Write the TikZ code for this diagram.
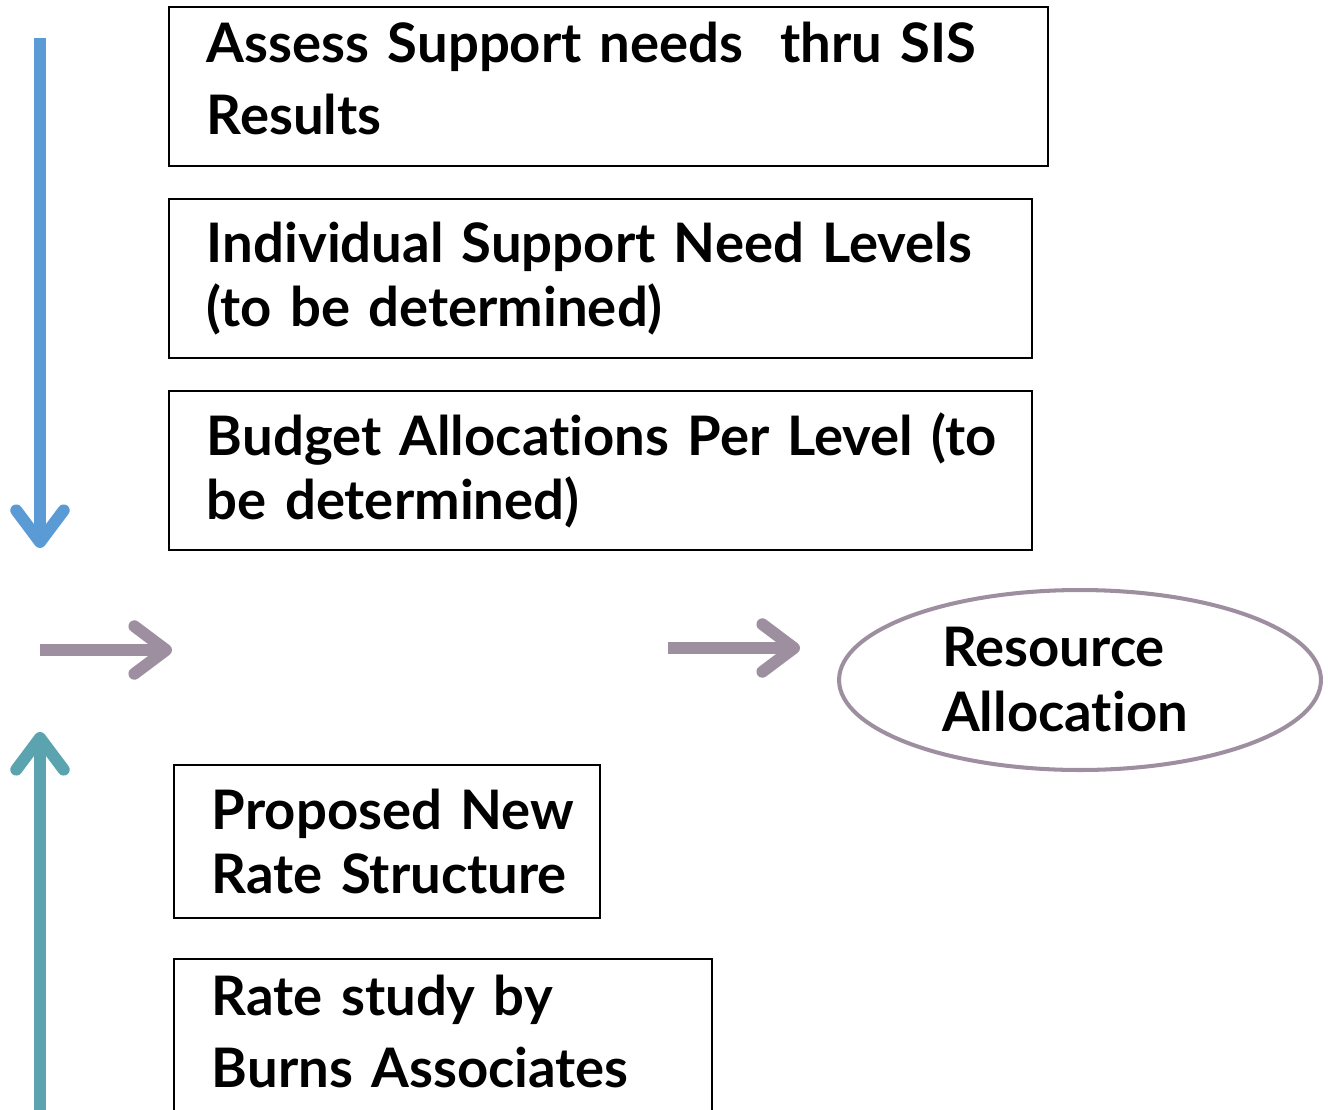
\documentclass[tikz,border=0pt]{standalone}
\usepackage{fontspec}
\setmainfont[Ligatures=NoCommon]{Lato}
\usetikzlibrary{arrows.meta,shapes.geometric}

\definecolor{downblue}{HTML}{5B9BD5}
\definecolor{uppteal}{HTML}{5BA3AE}
\definecolor{ragray}{HTML}{9E8FA0}

\begin{document}
\begin{tikzpicture}[x=0.02cm,y=-0.02cm,
    box/.style={draw, line width=1.1pt, rectangle, anchor=north west, align=left,
        inner xsep=0.76cm, inner ysep=0pt, font=\bfseries\fontsize{31}{36}\selectfont},
    flow/.style={line width=6.8pt, line cap=butt,
        -{Straight Barb[length=18pt, width=27pt, round]}}]
    \useasboundingbox (0,0) rectangle (1328,1109);

    \node[box, text width=16.06cm, minimum height=3.18cm, text depth=50pt,
        font=\bfseries\fontsize{31}{41}\selectfont] (assess) at (168,6)
        {\mbox{Assess Support needs~ thru SIS}\\Results};
    \node[box, text width=15.74cm, minimum height=3.18cm] (levels) at (168,198)
        {\mbox{Individual Support Need Levels}\\\mbox{(to be determined)}};
    \node[box, text width=15.74cm, minimum height=3.18cm] (budget) at (168,390)
        {\mbox{Budget Allocations Per Level (to}\\\mbox{be determined)}};
    \node[box, text width=7.0cm, minimum height=3.06cm] (newrate) at (173,764)
        {\mbox{Proposed New}\\\mbox{Rate Structure}};
    \node[box, text width=9.24cm, minimum height=3.3cm, text depth=53pt,
        font=\bfseries\fontsize{31}{41}\selectfont] (study) at (173,958)
        {\mbox{Rate study by}\\\mbox{Burns Associates}};

    \node[ellipse, draw=ragray, line width=2.3pt, minimum width=9.64cm, minimum height=3.6cm,
        align=left, font=\bfseries\fontsize{31}{37}\selectfont] (resalloc) at (1080,680)
        {Resource\\Allocation\kern0.6cm};

    % arrows
    \coordinate (bluetop) at (40,38);
    \coordinate (bluetip) at (40,548);
    \coordinate (tealbot) at (40,1120);
    \coordinate (tealtip) at (40,732);
    \coordinate (ina) at (40,650);
    \coordinate (inb) at (172,650);
    \coordinate (outa) at (668,648);
    \coordinate (outb) at (800,648);

    \draw[flow, downblue] (bluetop) -- (bluetip);
    \draw[flow, uppteal] (tealbot) -- (tealtip);
    \draw[flow, ragray] (ina) -- (inb);
    \draw[flow, ragray] (outa) -- (outb);
\end{tikzpicture}
\end{document}
